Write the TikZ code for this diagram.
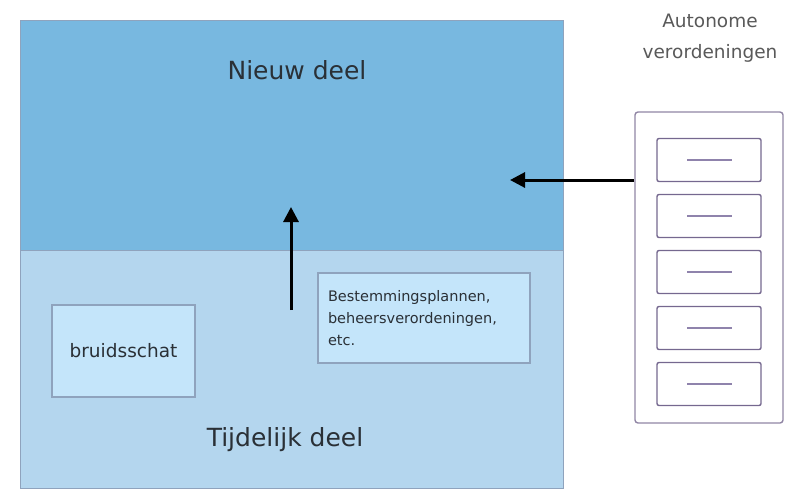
\documentclass[tikz,border=0pt]{standalone}
\usepackage{fontspec}
\setmainfont{DejaVu Sans}
\usetikzlibrary{arrows.meta, positioning}
\definecolor{nieuwblue}{HTML}{78B8E0}
\definecolor{tijdblue}{HTML}{B4D6EE}
\definecolor{boxblue}{HTML}{C4E5FA}
\definecolor{edgeblue}{HTML}{8FA3BD}
\definecolor{drawergray}{HTML}{75688F}
\definecolor{dashgray}{HTML}{8F83AC}
\definecolor{textgray}{HTML}{2A3036}

\begin{document}
\begin{tikzpicture}[x=1pt, y=-1pt,
    deelblock/.style={rectangle, draw=edgeblue, line width=1.2pt, minimum width=543pt, anchor=north west, inner sep=0pt},
    innerbox/.style={rectangle, draw=edgeblue, line width=1.2pt, fill=boxblue, inner sep=0pt, text=textgray},
    drawer/.style={rectangle, rounded corners=2pt, draw=drawergray, line width=1.4pt, minimum width=104pt, minimum height=43pt, inner sep=0pt},
    deeltitle/.style={font=\fontsize{25}{30}\selectfont, text=textgray},
    liftarrow/.style={line width=3pt, black, arrows={-Triangle[length=15pt, width=15pt]}},
]
\useasboundingbox (0,0) rectangle (791,491);

% Nieuw deel / Tijdelijk deel
\node[deelblock, fill=nieuwblue, minimum height=230pt] (nieuw) at (20,20) {};
\node[deelblock, fill=tijdblue, minimum height=238pt] (tijdelijk) at (20,250) {};
\node[deeltitle] (nieuwlabel) at (297,70) {Nieuw deel};
\node[deeltitle] (tijdlabel) at (285,440) {Tijdelijk deel};

% Boxes in the tijdelijk deel
\node[innerbox, minimum width=143pt, minimum height=92pt, font=\fontsize{18.5}{22}\selectfont] (bruidsschat) at (123.5,351) {bruidsschat};
\node[innerbox, minimum width=212pt, minimum height=90pt, text width=192pt, align=left, font=\fontsize{14.5}{22}\selectfont] (plannen) at (424,318)
    {Bestemmingsplannen,\\beheersverordeningen,\\etc.};

% Autonome verordeningen
\node[font=\fontsize{18.5}{31}\selectfont, text=black!65, align=center] (autolabel) at (710,38) {Autonome\\verordeningen};
\node[rectangle, rounded corners=3pt, draw=drawergray!80, line width=1.4pt, minimum width=148pt, minimum height=311pt, inner sep=0pt] (server) at (709,267.5) {};
\foreach \i in {0,...,4} {
    \node[drawer] (drawer\i) at (709,160+56*\i) {};
    \draw[dashgray, line width=1.6pt] ([xshift=-22pt]drawer\i.center) -- ([xshift=23pt]drawer\i.center);
}

% Arrows
\coordinate (nieuwtip) at (510,180);
\draw[liftarrow] (server.west |- nieuwtip) -- (nieuwtip);
\coordinate (liftfoot) at (291,310);
\coordinate (lifttip) at (291,207);
\draw[liftarrow] (liftfoot) -- (lifttip);

\end{tikzpicture}
\end{document}
